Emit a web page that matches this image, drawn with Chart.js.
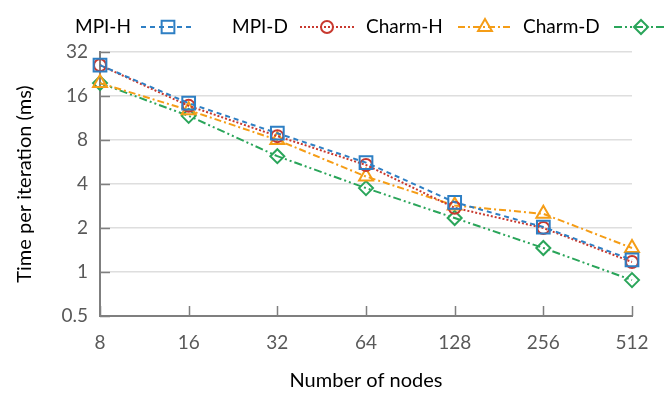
<!DOCTYPE html>
<html>
<head>
<meta charset="utf-8">
<script src="https://cdn.jsdelivr.net/npm/chart.js@4.4.0/dist/chart.umd.min.js"></script>
<style>
  html, body { margin: 0; padding: 0; background: #fff; }
</style>
</head>
<body>
<canvas id="chart" width="664" height="399"></canvas>
<script>
// data (log2 y axis)
const nodes = ['8', '16', '32', '64', '128', '256', '512'];
const mpiH = [26, 14.3, 8.9, 5.6, 3.0, 2.03, 1.21];
const mpiD = [26, 13.7, 8.5, 5.4, 2.75, 2.0, 1.17];
const charmH = [19.6, 12.8, 8.0, 4.5, 2.85, 2.5, 1.46];
const charmD = [19.6, 11.7, 6.2, 3.75, 2.34, 1.46, 0.88];
const yTicks = [0.5, 1, 2, 4, 8, 16, 32];

const FONT = 'Lato, "Liberation Sans", sans-serif';
const axisGray = '#7f7f7f';

function series(label, data, color, dash, pointStyle, radius) {
    return {
        label: label,
        data: data,
        borderColor: color,
        backgroundColor: color,
        borderWidth: 2,
        borderDash: dash,
        pointStyle: pointStyle,
        pointRadius: radius,
        pointHoverRadius: radius,
        pointBorderWidth: 2,
        pointBorderColor: color,
        pointBackgroundColor: 'rgba(0,0,0,0)',
        tension: 0
    };
}

// legend drawn text-first, then line sample with marker (like the original)
const legendX = [75, 232, 366, 523];
const legendMark = [168, 327, 485, 641];
const legendPlugin = {
    id: 'textFirstLegend',
    afterDraw(chart) {
        const ctx = chart.ctx;
        const y = 27;
        ctx.save();
        chart.data.datasets.forEach((ds, i) => {
            ctx.font = '19px ' + FONT;
            ctx.fillStyle = '#000';
            ctx.textBaseline = 'middle';
            ctx.textAlign = 'left';
            ctx.fillText(ds.label, legendX[i], y);
            const mx = legendMark[i];
            ctx.strokeStyle = ds.borderColor;
            ctx.lineWidth = 2;
            ctx.setLineDash(ds.borderDash);
            ctx.beginPath();
            ctx.moveTo(mx - 27, y);
            ctx.lineTo(Math.min(mx + 27, 664), y);
            ctx.stroke();
            ctx.setLineDash([]);
            ctx.fillStyle = 'rgba(0,0,0,0)';
            Chart.helpers.drawPoint(ctx, {
                pointStyle: ds.pointStyle, radius: ds.pointRadius, borderWidth: 2, rotation: 0
            }, mx, y);
        });
        ctx.restore();
    }
};

// short inner tick marks on both axes
const innerTicks = {
    id: 'innerTicks',
    beforeDatasetsDraw(chart) {
        const ctx = chart.ctx;
        const xs = chart.scales.x, ys = chart.scales.y;
        const a = chart.chartArea;
        ctx.save();
        ctx.strokeStyle = axisGray;
        ctx.lineWidth = 1.5;
        ctx.beginPath();
        xs.ticks.forEach((t, i) => {
            const px = Math.round(xs.getPixelForTick(i)) + 0.5;
            ctx.moveTo(px, a.bottom);
            ctx.lineTo(px, a.bottom - 10);
        });
        ys.ticks.forEach((t, i) => {
            const py = Math.round(ys.getPixelForTick(i)) + 0.5;
            ctx.moveTo(a.left, py);
            ctx.lineTo(a.left + 10, py);
        });
        ctx.stroke();
        ctx.restore();
    }
};

new Chart(document.getElementById('chart').getContext('2d'), {
    type: 'line',
    data: {
        labels: nodes,
        datasets: [
            series('MPI-H', mpiH, '#2e7fc4', [5, 4], 'rect', 9),
            series('MPI-D', mpiD, '#c8392f', [2, 2], 'circle', 6),
            series('Charm-H', charmH, '#f59d16', [7, 3, 2, 3], 'triangle', 8),
            series('Charm-D', charmD, '#2aa55a', [8, 3, 2, 3, 2, 3], 'rectRot', 7)
        ]
    },
    options: {
        responsive: false,
        animation: false,
        layout: { padding: { top: 52, right: 32, left: 0, bottom: 0 } },
        plugins: {
            legend: { display: false },
            tooltip: { enabled: false }
        },
        scales: {
            x: {
                type: 'category',
                offset: false,
                afterFit(scale) { scale.height = 83; },
                grid: { drawOnChartArea: false, drawTicks: false },
                border: { color: axisGray, width: 2 },
                ticks: { color: '#595959', font: { family: FONT, size: 19 }, padding: 15, maxRotation: 0 },
                title: {
                    display: true, text: 'Number of nodes', color: '#000',
                    font: { family: FONT, size: 20 }, padding: { top: 0, bottom: 6 }
                }
            },
            y: {
                type: 'logarithmic',
                min: 0.5,
                max: 32,
                afterFit(scale) { scale.width = 100; },
                afterBuildTicks(scale) { scale.ticks = yTicks.map(v => ({ value: v })); },
                grid: { color: '#dedede', lineWidth: 1.5, drawTicks: false },
                border: { color: axisGray, width: 2 },
                ticks: {
                    color: '#595959', font: { family: FONT, size: 19 }, padding: 12,
                    callback: v => String(v)
                },
                title: {
                    display: true, text: 'Time per iteration (ms)', color: '#000',
                    font: { family: FONT, size: 20 }, padding: { top: 13, bottom: 0 }
                }
            }
        }
    },
    plugins: [legendPlugin, innerTicks]
});
</script>
</body>
</html>
